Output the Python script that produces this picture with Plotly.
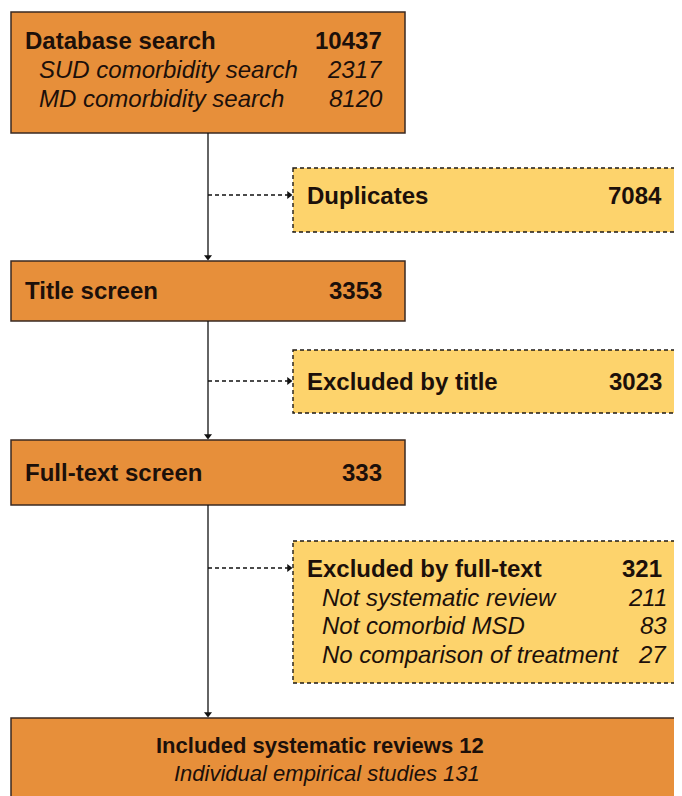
import plotly.graph_objects as go

# ---- data ----
main_labels = ["Database search", "Title screen", "Full-text screen"]
main_counts = [10437, 3353, 333]
search_sub_labels = ["SUD comorbidity search", "MD comorbidity search"]
search_sub_counts = [2317, 8120]
excl_labels = ["Duplicates", "Excluded by title", "Excluded by full-text"]
excl_counts = [7084, 3023, 321]
fulltext_sub_labels = ["Not systematic review", "Not comorbid MSD", "No comparison of treatment"]
fulltext_sub_counts = [211, 83, 27]
final_label = "Included systematic reviews"
final_count = 12
final_sub_label = "Individual empirical studies"
final_sub_count = 131

# ---- styles / layout ----
W, H = 682, 796
OFF = 8  # page body margin
ORANGE = "#E78F3A"
YELLOW = "#FDD36C"
TXT = "#1c100a"
BORDER = "#3a2a22"
DASH_BORDER = "#1e1a16"
FONT = "Liberation Sans"
BS = 24   # bold size
IS = 24   # italic size
FS = 22   # final box size

main_boxes = [(11, 12, 405, 133), (11, 261, 405, 321), (11, 440, 405, 505)]
main_title_y = [40, 290, 472]
excl_boxes = [(293, 168, 700, 232), (293, 350, 700, 413), (293, 541, 700, 683)]
excl_title_y = [195, 381, 568]
excl_num_right = 664
final_box = (11, 718, 700, 810)
spine_x = 208

fig = go.Figure()
shapes = []
ann = []

def txt(x, y, s, anchor="left", bold=True, italic=False, size=BS):
    ann.append(dict(x=x, y=y, xref="x", yref="y", text=s, showarrow=False,
                    xanchor=anchor, yanchor="middle",
                    font=dict(family=FONT, size=size, color=TXT,
                              weight="bold" if bold else "normal",
                              style="italic" if italic else "normal")))

for (x0, y0, x1, y1) in main_boxes:
    shapes.append(dict(type="rect", xref="x", yref="y", x0=x0, y0=y0, x1=x1, y1=y1,
                       fillcolor=ORANGE, line=dict(color=BORDER, width=1.5), layer="below"))
for (x0, y0, x1, y1) in excl_boxes:
    shapes.append(dict(type="rect", xref="x", yref="y", x0=x0, y0=y0, x1=x1, y1=y1,
                       fillcolor=YELLOW, line=dict(color=DASH_BORDER, width=1.4, dash="4px,3px"),
                       layer="below"))
x0, y0, x1, y1 = final_box
shapes.append(dict(type="rect", xref="x", yref="y", x0=x0, y0=y0, x1=x1, y1=y1,
                   fillcolor=ORANGE, line=dict(color=BORDER, width=1.5), layer="below"))

# spine segments with arrowheads
tops = [b[1] for b in main_boxes[1:]] + [final_box[1]]
bottoms = [b[3] for b in main_boxes]
head_x, head_y = [], []
for yb, yt in zip(bottoms, tops):
    shapes.append(dict(type="line", xref="x", yref="y", x0=spine_x, y0=yb, x1=spine_x, y1=yt - 3,
                       line=dict(color="#111", width=1.3)))
    head_x.append(spine_x)
    head_y.append(yt - 4)

# dashed side arrows
rh_x, rh_y = [], []
for (bx0, by0, bx1, by1), ty in zip(excl_boxes, excl_title_y):
    shapes.append(dict(type="line", xref="x", yref="y", x0=spine_x, y0=ty, x1=bx0 - 5, y1=ty,
                       line=dict(color="#111", width=1.3, dash="4px,3px")))
    rh_x.append(bx0 - 4)
    rh_y.append(ty)

fig.add_trace(go.Scatter(x=head_x, y=head_y, mode="markers", hoverinfo="skip",
                         marker=dict(symbol="triangle-down", size=7, color="#111")))
fig.add_trace(go.Scatter(x=rh_x, y=rh_y, mode="markers", hoverinfo="skip",
                         marker=dict(symbol="triangle-right", size=7, color="#111")))

# main box texts
for (bx0, by0, bx1, by1), ty, lab, c in zip(main_boxes, main_title_y, main_labels, main_counts):
    txt(bx0 + 12, ty, lab)
    txt(bx1 - 21, ty, str(c), anchor="right")
for i, (lab, c) in enumerate(zip(search_sub_labels, search_sub_counts)):
    y = 69 + i * 29
    txt(37, y, lab, bold=False, italic=True, size=IS)
    txt(385, y, str(c), anchor="right", bold=False, italic=True, size=IS)

# exclusion texts
for (bx0, by0, bx1, by1), ty, lab, c in zip(excl_boxes, excl_title_y, excl_labels, excl_counts):
    txt(bx0 + 12, ty, lab)
    txt(excl_num_right, ty, str(c), anchor="right")
for i, (lab, c) in enumerate(zip(fulltext_sub_labels, fulltext_sub_counts)):
    y = 597 + i * 28.5
    txt(320, y, lab, bold=False, italic=True, size=IS)
    txt(669, y, str(c), anchor="right", bold=False, italic=True, size=IS)

# final box
txt(320, 745, f"{final_label} {final_count}", anchor="center", size=FS)
txt(327, 773, f"{final_sub_label} {final_sub_count}", anchor="center", bold=False, italic=True, size=FS)

fig.update_layout(width=W - OFF, height=H - OFF, margin=dict(l=0, r=0, t=0, b=0),
                  paper_bgcolor="white", plot_bgcolor="white", showlegend=False,
                  shapes=shapes, annotations=ann,
                  xaxis=dict(range=[OFF, W], visible=False, fixedrange=True),
                  yaxis=dict(range=[H, OFF], visible=False, fixedrange=True))
fig.write_html("out.html", config={"displayModeBar": False})
